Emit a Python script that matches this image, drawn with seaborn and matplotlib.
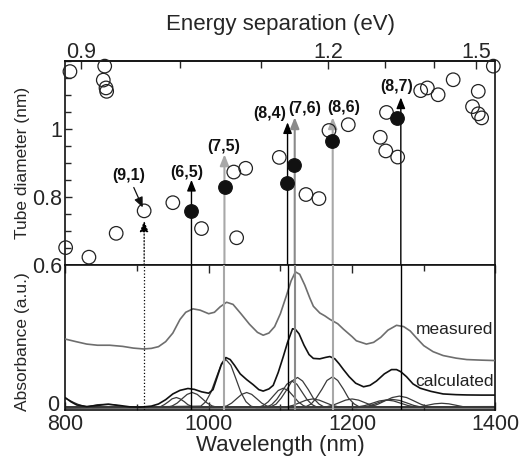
import numpy as np
import matplotlib
matplotlib.use("Agg")
import matplotlib.pyplot as plt
from matplotlib.ticker import FixedLocator, MultipleLocator
import seaborn as sns

sns.set_theme(style="ticks")
plt.rcParams["font.family"] = ["Liberation Sans", "DejaVu Sans"]

# ---------------- data ----------------
# open circles: (wavelength nm, tube diameter nm)
open_wl = [800.5, 833, 871, 910, 950, 990, 1035, 1051.6, 1039, 1098.5, 1135.7, 1153.8,
           1167.8, 1194.7, 1239.3, 1247, 1263.6, 806.5, 855, 853, 856.8, 857.7, 1248,
           1295.7, 1305, 1320, 1341, 1376, 1368, 1376, 1380.7, 1397]
open_d = [0.651, 0.623, 0.693, 0.759, 0.783, 0.707, 0.873, 0.884, 0.680, 0.916, 0.807, 0.795,
          0.995, 1.012, 0.975, 0.935, 0.917, 1.168, 1.184, 1.143, 1.120, 1.110, 1.048,
          1.112, 1.120, 1.100, 1.144, 1.110, 1.065, 1.044, 1.032, 1.184]

# assigned (filled) tubes
filled_labels = ["(6,5)", "(7,5)", "(8,4)", "(7,6)", "(8,6)", "(8,7)"]
filled_wl = [975, 1022.7, 1109.7, 1119, 1171.5, 1262]
filled_d = [0.758, 0.829, 0.840, 0.894, 0.965, 1.032]

# chirality markers (vertical lines with arrow tips)
chir_labels = ["(9,1)", "(6,5)", "(7,5)", "(8,4)", "(7,6)", "(8,6)", "(8,7)"]
chir_wl = [910, 976, 1022, 1110, 1120, 1173, 1268]
chir_tip = [0.73, 0.85, 0.925, 1.019, 1.034, 1.034, 1.092]

# measured absorbance
meas_wl = [800, 815, 830, 845, 862, 880, 895, 909, 920, 930, 940, 950, 960, 968, 978, 988,
           1000, 1008, 1016, 1025, 1034, 1045, 1057, 1068, 1076, 1084, 1092, 1100, 1108,
           1115, 1121, 1127, 1134, 1141, 1146, 1155, 1162, 1169, 1180, 1188, 1200, 1206,
           1220, 1230, 1240, 1250, 1262, 1272, 1281, 1290, 1300, 1313, 1327, 1345, 1360,
           1380, 1400]
meas_a = [0.483, 0.465, 0.448, 0.440, 0.440, 0.432, 0.420, 0.414, 0.418, 0.430, 0.465, 0.525,
          0.620, 0.670, 0.694, 0.685, 0.660, 0.670, 0.708, 0.740, 0.725, 0.660, 0.586, 0.530,
          0.510, 0.525, 0.570, 0.660, 0.780, 0.890, 0.952, 0.935, 0.860, 0.770, 0.712, 0.665,
          0.645, 0.621, 0.590, 0.552, 0.500, 0.471, 0.448, 0.460, 0.495, 0.545, 0.579, 0.570,
          0.540, 0.490, 0.437, 0.395, 0.368, 0.350, 0.340, 0.336, 0.333]

# calculated absorbance
calc_wl = [800, 808, 816, 830, 845, 860, 875, 890, 905, 920, 930, 940, 950, 960, 971, 980,
           990, 1000, 1006, 1012, 1018, 1024, 1030, 1036, 1044, 1053, 1062, 1070, 1076, 1084,
           1090, 1097, 1104, 1110, 1117, 1121, 1126, 1133, 1140, 1146, 1155, 1163, 1169, 1176,
           1182, 1188, 1196, 1205, 1216, 1225, 1234, 1245, 1255, 1262, 1268, 1276, 1285, 1295,
           1310, 1327, 1345, 1360, 1380, 1400]
calc_a = [0.074, 0.045, 0.023, 0.012, 0.020, 0.028, 0.020, 0.010, 0.008, 0.015, 0.030, 0.060,
          0.100, 0.125, 0.138, 0.132, 0.115, 0.105, 0.130, 0.220, 0.310, 0.354, 0.340, 0.300,
          0.240, 0.200, 0.165, 0.130, 0.120, 0.135, 0.160, 0.250, 0.360, 0.460, 0.555, 0.550,
          0.520, 0.440, 0.375, 0.348, 0.345, 0.355, 0.361, 0.345, 0.310, 0.270, 0.220, 0.175,
          0.150, 0.160, 0.190, 0.240, 0.270, 0.270, 0.255, 0.220, 0.170, 0.140, 0.118, 0.100,
          0.095, 0.093, 0.092, 0.092]

# individual component spectra (wavelength, absorbance)
comp_tail = [(800, 0.070), (806, 0.055), (812, 0.040), (818, 0.027), (824, 0.017), (830, 0.010),
             (838, 0.005), (1400, 0.004)]
comp_860 = [(800, 0.006), (822, 0.007), (830, 0.010), (837, 0.017), (845, 0.025), (852, 0.027),
            (860, 0.028), (867, 0.025), (875, 0.017), (882, 0.010), (890, 0.006), (1400, 0.006)]
comp_955 = [(800, 0.007), (927, 0.006), (933, 0.012), (938, 0.025), (944, 0.046), (949, 0.066),
            (955, 0.075), (960, 0.066), (966, 0.046), (971, 0.025), (977, 0.012), (983, 0.007),
            (1400, 0.008)]
comp_977 = [(800, 0.005), (942, 0.007), (949, 0.016), (956, 0.036), (963, 0.067), (970, 0.097),
            (977, 0.110), (984, 0.097), (991, 0.067), (998, 0.036), (1005, 0.016), (1012, 0.007),
            (1400, 0.006)]
comp_1024 = [(800, 0.003), (989, 0.015), (996, 0.046), (1003, 0.110), (1010, 0.206),
             (1017, 0.300), (1024, 0.340), (1031, 0.300), (1038, 0.206), (1045, 0.110),
             (1052, 0.046), (1059, 0.015), (1066, 0.005), (1400, 0.004)]
comp_1053 = [(800, 0.009), (1018, 0.009), (1025, 0.016), (1032, 0.036), (1039, 0.067),
             (1046, 0.097), (1053, 0.110), (1060, 0.097), (1067, 0.067), (1074, 0.036),
             (1081, 0.016), (1088, 0.009), (1400, 0.009)]
comp_1104 = [(800, 0.004), (1069, 0.006), (1076, 0.019), (1083, 0.045), (1090, 0.085),
             (1097, 0.124), (1104, 0.140), (1111, 0.124), (1118, 0.085), (1125, 0.045),
             (1132, 0.019), (1139, 0.006), (1400, 0.005)]
comp_1116 = [(800, 0.008), (1081, 0.008), (1088, 0.026), (1095, 0.062), (1102, 0.115),
             (1109, 0.168), (1116, 0.190), (1123, 0.168), (1130, 0.115), (1137, 0.062),
             (1144, 0.026), (1151, 0.008), (1400, 0.007)]
comp_1124 = [(800, 0.006), (1086, 0.009), (1094, 0.029), (1101, 0.070), (1109, 0.130),
             (1116, 0.190), (1124, 0.215), (1131, 0.190), (1139, 0.130), (1146, 0.070),
             (1154, 0.029), (1161, 0.009), (1400, 0.010)]
comp_1173 = [(800, 0.010), (1135, 0.010), (1143, 0.030), (1150, 0.071), (1158, 0.133),
             (1165, 0.194), (1173, 0.220), (1180, 0.194), (1188, 0.133), (1195, 0.071),
             (1203, 0.030), (1210, 0.010), (1400, 0.012)]
comp_1145 = [(800, 0.005), (1100, 0.005), (1109, 0.010), (1118, 0.021), (1127, 0.039),
             (1136, 0.057), (1145, 0.065), (1154, 0.057), (1163, 0.039), (1172, 0.021),
             (1181, 0.010), (1190, 0.006), (1400, 0.006)]
comp_1200 = [(800, 0.004), (1155, 0.005), (1164, 0.010), (1173, 0.021), (1182, 0.039),
             (1191, 0.057), (1200, 0.065), (1209, 0.057), (1218, 0.039), (1227, 0.021),
             (1236, 0.010), (1245, 0.007), (1400, 0.008)]
comp_1248 = [(800, 0.007), (1198, 0.007), (1208, 0.010), (1218, 0.019), (1228, 0.035),
             (1238, 0.051), (1248, 0.058), (1258, 0.051), (1268, 0.035), (1278, 0.019),
             (1288, 0.010), (1298, 0.007), (1400, 0.007)]
comp_1256 = [(800, 0.005), (1206, 0.005), (1216, 0.009), (1226, 0.020), (1236, 0.038),
             (1246, 0.055), (1256, 0.062), (1266, 0.055), (1276, 0.038), (1286, 0.020),
             (1296, 0.009), (1306, 0.008), (1400, 0.010)]
comp_1266 = [(800, 0.009), (1216, 0.010), (1226, 0.012), (1236, 0.028), (1246, 0.052),
             (1256, 0.075), (1266, 0.085), (1276, 0.075), (1286, 0.052), (1296, 0.028),
             (1306, 0.012), (1316, 0.010), (1400, 0.011)]
comp_1325 = [(800, 0.006), (1275, 0.006), (1285, 0.008), (1295, 0.011), (1305, 0.021),
             (1315, 0.031), (1325, 0.035), (1335, 0.031), (1345, 0.021), (1355, 0.011),
             (1365, 0.008), (1400, 0.007)]
components = [comp_tail, comp_860, comp_955, comp_977, comp_1024, comp_1053, comp_1104,
              comp_1116, comp_1124, comp_1173, comp_1145, comp_1200, comp_1248, comp_1256,
              comp_1266, comp_1325]

xtick_vals = [800, 1000, 1200, 1400]
xtick_labels = ["800", "1000", "1200", "1400"]
ytick_vals = [0.6, 0.8, 1.0]
ytick_labels = ["0.6", "0.8", "1"]
ev_ticks = [0.9, 1.2, 1.5]
ev_labels = ["0.9", "1.2", "1.5"]
ev_minor = [1.0, 1.1, 1.3, 1.4]

# ---------------- styles / layout ----------------
PUMP_NM = 2200.0


def nm_to_ev(wl):
    wl = np.asarray(wl, dtype=float)
    with np.errstate(divide="ignore", invalid="ignore"):
        return 1240.0 / (PUMP_NM - wl)


def ev_to_nm(ev):
    ev = np.asarray(ev, dtype=float)
    with np.errstate(divide="ignore", invalid="ignore"):
        return PUMP_NM - 1240.0 / ev


line_styles = {
    "(9,1)": dict(color="black", lw=0.9, ls=":"),
    "(6,5)": dict(color="black", lw=1.0, ls="-"),
    "(7,5)": dict(color="#a8a8a8", lw=1.5, ls="-"),
    "(8,4)": dict(color="black", lw=1.0, ls="-"),
    "(7,6)": dict(color="#8a8a8a", lw=1.5, ls="-"),
    "(8,6)": dict(color="#a8a8a8", lw=1.5, ls="-"),
    "(8,7)": dict(color="black", lw=1.0, ls="-"),
}
label_pos = {
    "(6,5)": (970, 0.873),
    "(7,5)": (1021, 0.949),
    "(8,4)": (1085, 1.044),
    "(7,6)": (1134, 1.061),
    "(8,6)": (1188, 1.063),
    "(8,7)": (1262, 1.123),
}

fig = plt.figure(figsize=(5.21, 4.65), dpi=100)
ax1 = fig.add_axes([0.1253, 0.4301, 0.8257, 0.4394])
ax2 = fig.add_axes([0.1253, 0.1183, 0.8257, 0.3118])

TICK_FS = 15.5

# ---- top panel ----
sns.scatterplot(x=open_wl, y=open_d, ax=ax1, marker="o", s=95,
                facecolors="none", edgecolors="#222222", linewidth=0.9,
                clip_on=False, zorder=3, legend=False)
sns.scatterplot(x=filled_wl, y=filled_d, ax=ax1, marker="o", s=95,
                color="#111111", edgecolor="#111111", linewidth=0.9,
                clip_on=False, zorder=4, legend=False)

for lab, wl, tip in zip(chir_labels, chir_wl, chir_tip):
    st = line_styles[lab]
    ax1.annotate("", xy=(wl, tip), xytext=(wl, 0.6),
                 arrowprops=dict(arrowstyle="-|>,head_length=0.55,head_width=0.22",
                                 color=st["color"], lw=st["lw"],
                                 ls=st["ls"], shrinkA=0, shrinkB=0, mutation_scale=12),
                 zorder=2)
    if lab in label_pos:
        ax1.text(*label_pos[lab], lab, ha="center", va="center", fontsize=11.5,
                 fontweight="bold", color="#111111", zorder=5)

ax1.annotate("(9,1)", xy=(908, 0.769), xytext=(888, 0.863), ha="center", va="center",
             fontsize=11.5, fontweight="bold", color="#111111",
             arrowprops=dict(arrowstyle="-|>,head_length=0.5,head_width=0.22",
                             color="#111111", lw=0.9, shrinkA=1, shrinkB=0,
                             mutation_scale=12))

ax1.set_xlim(800, 1400)
ax1.set_ylim(0.6, 1.2)
ax1.set_yticks(ytick_vals)
ax1.set_yticklabels(ytick_labels)
ax1.yaxis.set_minor_locator(MultipleLocator(0.05))
ax1.tick_params(axis="y", which="major", direction="in", length=5, width=1,
                labelsize=TICK_FS, pad=2, right=False)
ax1.tick_params(axis="y", which="minor", direction="in", length=4, width=1, right=False)
ax1.tick_params(axis="x", which="both", bottom=False, top=False, labelbottom=False)
ax1.set_ylabel("Tube diameter (nm)", fontsize=12.5)
ax1.yaxis.set_label_coords(-0.083, 0.5)

sec = ax1.secondary_xaxis("top", functions=(nm_to_ev, ev_to_nm))
sec.set_xticks(ev_ticks)
sec.set_xticklabels(ev_labels)
sec.xaxis.set_minor_locator(FixedLocator(ev_minor))
sec.tick_params(axis="x", which="major", direction="in", length=6, width=1,
                labelsize=TICK_FS, pad=-1.5)
sec.tick_params(axis="x", which="minor", direction="in", length=5, width=1)
sec.set_xlabel("Energy separation (eV)", fontsize=16, labelpad=8.5)
sec.spines["top"].set_linewidth(1.2)

# ---- bottom panel ----
for comp in components:
    cw = [p[0] for p in comp]
    ca = [p[1] for p in comp]
    sns.lineplot(x=cw, y=ca, ax=ax2, color="#3a3a3a", lw=0.9, sort=False,
                 estimator=None, legend=False, zorder=2)
sns.lineplot(x=meas_wl, y=meas_a, ax=ax2, color="#6e6e6e", lw=1.2, sort=False,
             estimator=None, legend=False, zorder=3)
sns.lineplot(x=calc_wl, y=calc_a, ax=ax2, color="#111111", lw=1.2, sort=False,
             estimator=None, legend=False, zorder=3)

for lab, wl in zip(chir_labels, chir_wl):
    st = line_styles[lab]
    ax2.axvline(wl, color=st["color"], lw=st["lw"], ls=st["ls"], zorder=4)

ax2.text(1397, 0.552, "measured", ha="right", va="center", fontsize=12.5, color="#222222")
ax2.text(1397, 0.188, "calculated", ha="right", va="center", fontsize=12.5, color="#222222")

ax2.set_xlim(800, 1400)
ax2.set_ylim(-0.012, 1.0)
ax2.set_xticks(xtick_vals)
ax2.set_xticklabels(xtick_labels)
ax2.xaxis.set_minor_locator(MultipleLocator(100))
ax2.set_yticks([0.035])
ax2.set_yticklabels(["0"])
ax2.tick_params(axis="x", which="major", direction="in", length=6, width=1,
                top=True, bottom=True, labelsize=TICK_FS, pad=3)
ax2.tick_params(axis="x", which="minor", direction="in", length=4, width=1,
                top=True, bottom=True)
ax2.tick_params(axis="y", which="major", direction="in", length=0, width=1,
                labelsize=TICK_FS, pad=4)
ax2.set_xlabel("Wavelength (nm)", fontsize=16, labelpad=0)
ax2.set_ylabel("Absorbance (a.u.)", fontsize=12.5)
ax2.yaxis.set_label_coords(-0.083, 0.47)

for ax in (ax1, ax2):
    for sp in ax.spines.values():
        sp.set_linewidth(1.2)
        sp.set_color("#111111")
    ax.set_facecolor("white")

fig.savefig("out.png", dpi=100, facecolor="white")
